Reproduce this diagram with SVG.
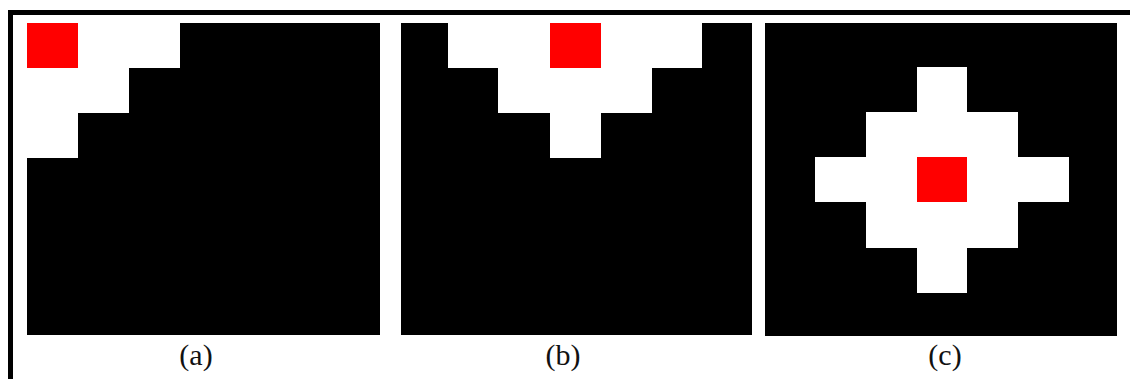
<svg xmlns="http://www.w3.org/2000/svg" width="1130" height="379" viewBox="0 0 1130 379">
<style>
.bg{fill:#000}
.w{fill:#fff}
.r{fill:#ff0000}
.lbl{font-family:"Liberation Serif","Times New Roman",serif;font-size:30px;fill:#111;text-anchor:middle}
</style>
<rect width="1130" height="379" fill="#fff"/>
<g id="frame">
<rect x="8" y="10" width="1122" height="5" fill="#000"/>
<rect x="8" y="10" width="5" height="369" fill="#000"/>
</g>
<g id="panel-a">
<rect class="bg" x="27" y="23" width="353" height="312"/>
<rect class="w" x="27" y="23" width="153" height="45"/>
<rect class="w" x="27" y="68" width="102" height="45"/>
<rect class="w" x="27" y="113" width="51" height="45"/>
<rect class="r" x="27" y="23" width="51" height="45"/>
<text class="lbl" x="196" y="365">(a)</text>
</g>
<g id="panel-b">
<rect class="bg" x="401" y="23" width="351" height="312"/>
<rect class="w" x="448" y="23" width="254" height="45"/>
<rect class="w" x="498" y="68" width="154" height="45"/>
<rect class="w" x="550" y="113" width="51" height="45"/>
<rect class="r" x="550" y="23" width="51" height="45"/>
<text class="lbl" x="563" y="365">(b)</text>
</g>
<g id="panel-c">
<rect class="bg" x="765" y="23" width="352" height="313"/>
<rect class="w" x="917" y="67" width="50" height="45"/>
<rect class="w" x="866" y="112" width="152" height="45"/>
<rect class="w" x="815" y="157" width="254" height="45"/>
<rect class="w" x="866" y="202" width="152" height="46"/>
<rect class="w" x="917" y="248" width="50" height="45"/>
<rect class="r" x="917" y="157" width="50" height="45"/>
<text class="lbl" x="945" y="365">(c)</text>
</g>
</svg>
